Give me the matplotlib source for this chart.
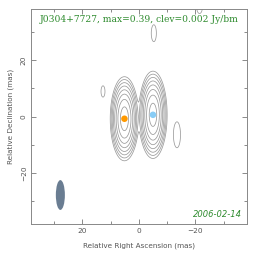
import numpy as np
import matplotlib
matplotlib.use("Agg")
import matplotlib.pyplot as plt
from matplotlib.patches import Ellipse

# ---- data ----
source = "J0304+7727"
peak_flux = 0.39
clev = 0.002
epoch = "2006-02-14"
# components: x (mas), y (mas), peak (Jy/bm), sigma_x, sigma_y (mas)
comp_x = [5.1, -5.0, 12.7, -5.3, -13.5, -21.5]
comp_y = [-0.8, 0.6, 8.9, 29.6, -6.5, 38.8]
comp_peak = [0.39, 0.37, 0.0033, 0.0033, 0.0033, 0.0033]
comp_sx = [1.55, 1.55, 0.7, 0.9, 1.25, 1.0]
comp_sy = [4.6, 4.8, 2.0, 3.0, 4.6, 2.2]
# model-fit markers
dot_x = [5.1, -5.0]
dot_y = [-0.8, 0.6]
dot_colors = ["#ff9900", "#88ccf5"]
# beam
beam_x, beam_y, beam_minor, beam_major = 27.8, -27.9, 3.2, 10.6
lim = 38.2

fig = plt.figure(figsize=(2.64, 2.62), dpi=100)
ax = fig.add_axes([31/264, (262-224)/262, (246.7-31)/264, (224-9)/262])

g = np.linspace(-lim, lim, 700)
X, Y = np.meshgrid(g, g)
Z = np.zeros_like(X)
for cx, cy, p, sx, sy in zip(comp_x, comp_y, comp_peak, comp_sx, comp_sy):
    Z += p * np.exp(-0.5 * (((X - cx) / sx) ** 2 + ((Y - cy) / sy) ** 2))

levels = clev * 2.0 ** np.arange(8)
ax.contour(X, Y, Z, levels=levels, colors="#9a9a9a", linewidths=0.55)

ax.scatter(dot_x, dot_y, s=22, c=dot_colors, zorder=5, edgecolors="none")
ax.add_patch(Ellipse((beam_x, beam_y), beam_minor, beam_major,
                     facecolor="#6a7d92", edgecolor="none"))

ax.set_xlim(lim, -lim)
ax.set_ylim(-lim, lim)
ax.set_xticks([20, 0, -20])
ax.set_yticks([20, 0, -20])
ax.set_xticks([30, 10, -10, -30], minor=True)
ax.set_yticks([30, 10, -10, -30], minor=True)
for s in ax.spines.values():
    s.set_color("#888888")
    s.set_linewidth(0.7)
ax.tick_params(which="both", direction="in", top=True, right=True,
               color="#777777", width=0.6, labelsize=5.3, labelcolor="#555555", pad=3)
ax.tick_params(which="major", length=3.5)
ax.tick_params(which="minor", length=2)
for lab in ax.get_yticklabels():
    lab.set_rotation(90)
    lab.set_va("center")
ax.set_xlabel("Relative Right Ascension (mas)", fontsize=5.2, color="#555555", labelpad=6)
ax.set_ylabel("Relative Declination (mas)", fontsize=5.2, color="#555555", labelpad=5)

ax.text(0.5, 0.949, f"{source}, max={peak_flux}, clev={clev} Jy/bm",
        transform=ax.transAxes, ha="center", va="center", fontsize=6.6,
        color="#2e8b2e", family="DejaVu Serif")
ax.text(0.978, 0.042, epoch, transform=ax.transAxes, ha="right", va="center",
        fontsize=6, color="#2e8b2e", style="italic")

fig.savefig("out.png", dpi=100)
